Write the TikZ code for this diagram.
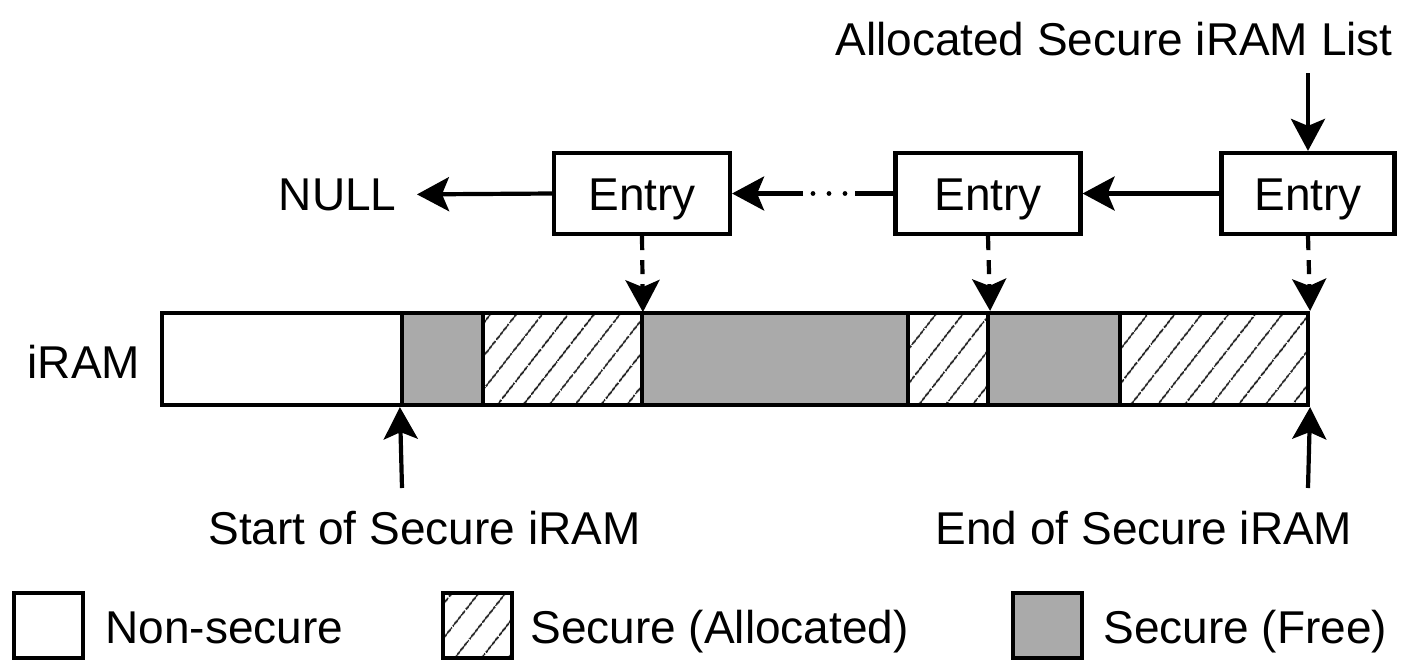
\documentclass[tikz,border=0pt]{standalone}
\usepackage{fontspec}
\setmainfont{Liberation Sans}
\usetikzlibrary{arrows.meta,patterns.meta}
\definecolor{freegray}{RGB}{170,170,170}
\newcommand\lblfont{\fontsize{23}{27}\selectfont}
\tikzset{
  seg/.style={draw, line width=2.1pt, inner sep=0pt, minimum height=46pt},
  nonsec/.style={seg, fill=white},
  free/.style={seg, fill=freegray},
  hatch/.style={pattern={Lines[angle=52,distance=10.5pt,line width=0.9pt]}, pattern color=black!85},
  alloc/.style={seg, hatch},
  entry/.style={draw, line width=2.1pt, minimum height=40.5pt, inner sep=0pt, font=\lblfont, text height=16.5pt, text depth=0pt},
  lbl/.style={font=\lblfont, inner sep=0pt},
  arr/.style={line width=2.1pt, -{Stealth[length=16pt,width=17pt,inset=3.5pt]}},
  darr/.style={arr, dash pattern=on 7pt off 5pt},
  plain/.style={line width=2.1pt},
  dotline/.style={line width=2.4pt, line cap=round, dash pattern=on 0pt off 8pt, dash phase=3pt},
  legbox/.style={draw, line width=2.1pt, inner sep=0pt, minimum width=34.5pt, minimum height=32.5pt},
}
\begin{document}
\begin{tikzpicture}[x=0.5pt,y=-0.5pt]
\useasboundingbox (0,0) rectangle (1404,660);
% iRAM bar
\node[nonsec, minimum width=120pt] (s1) at (282,359) {};
\node[free,   minimum width=40.5pt] (s2) at (442.5,359) {};
\node[alloc,  minimum width=79.5pt] (s3) at (562.5,359) {};
\node[free,   minimum width=133pt] (s4) at (775,359) {};
\node[alloc,  minimum width=40pt] (s5) at (948,359) {};
\node[free,   minimum width=66pt] (s6) at (1054,359) {};
\node[alloc,  minimum width=94pt] (s7) at (1214,359) {};
\node[lbl, anchor=base] (iram) at (84,378) {iRAM};
% entries
\node[entry, minimum width=88pt] (e1) at (642,193.5) {Entry};
\node[entry, minimum width=92.5pt] (e2) at (988,193.5) {Entry};
\node[entry, minimum width=86.5pt] (e3) at (1308,193.5) {Entry};
\node[lbl, anchor=base east, inner xsep=10pt] (null) at (417,210) {NULL};
\node[lbl, anchor=base] (title) at (1114,55) {Allocated Secure iRAM List};
\coordinate (top) at (1308,73);
% list links
\draw[arr] (e1.west) -- (null.east);
\coordinate (d1) at (855,193.5);
\coordinate (d2) at (803,193.5);
\draw[plain] (e2.west) -- (d1);
\draw[dotline] (d1) -- (d2);
\draw[arr] (d2) -- (e1.east);
\draw[arr] (e3.west) -- (e2.east);
\draw[arr] (top) -- (e3.north);
% pointers into iRAM
\draw[darr] (e1.south) -- (s3.north east);
\draw[darr] (e2.south) -- (s5.north east);
\draw[darr] (e3.south) -- (s7.north east);
% start / end
\node[lbl, anchor=base] (start) at (424.5,544) {Start of Secure iRAM};
\node[lbl, anchor=base] (end) at (1144,544) {End of Secure iRAM};
\coordinate (sb) at (402,488);
\coordinate (eb) at (1308,488);
\draw[arr] (sb) -- (s2.south west);
\draw[arr] (eb) -- (s7.south east);
% legend
\node[legbox, fill=white] (lg1) at (48.5,625.5) {};
\node[lbl, anchor=base west] (lt1) at (105,643) {Non-secure};
\node[legbox, hatch] (lg2) at (477.5,625.5) {};
\node[lbl, anchor=base west] (lt2) at (530,643) {Secure (Allocated)};
\node[legbox, fill=freegray] (lg3) at (1047.5,625.5) {};
\node[lbl, anchor=base west] (lt3) at (1103,643) {Secure (Free)};
\end{tikzpicture}
\end{document}
